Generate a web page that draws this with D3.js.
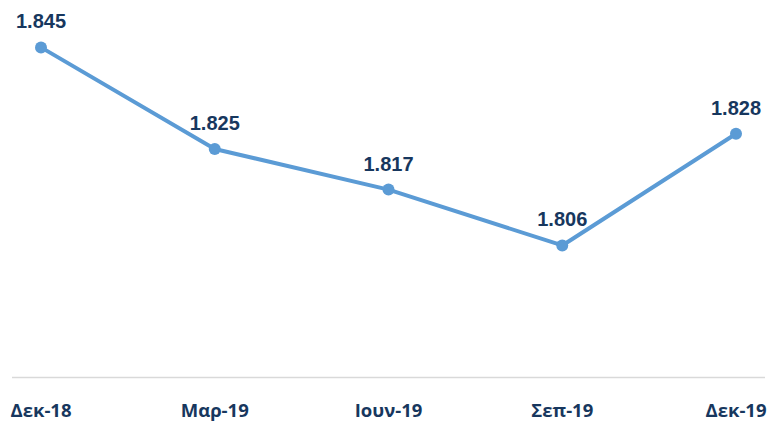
<!DOCTYPE html>
<html>
<head>
<meta charset="utf-8">
<script src="https://cdn.jsdelivr.net/npm/d3@7"></script>
<style>
  body { margin: 0; background: #fff; }
  svg { display: block; }
</style>
</head>
<body>
<div id="chart"></div>
<script>
// quarter labels and values (thousands)
const periods = ["Δεκ-18", "Μαρ-19", "Ιουν-19", "Σεπ-19", "Δεκ-19"];
const values = [1.845, 1.825, 1.817, 1.806, 1.828];
const valueLabels = ["1.845", "1.825", "1.817", "1.806", "1.828"];

const width = 770, height = 423;
const lineColor = "#5b9bd5";
const textColor = "#17375e";

const svg = d3.select("#chart").append("svg")
  .attr("width", width)
  .attr("height", height);

const x = d3.scalePoint()
  .domain(periods)
  .range([41, 736]);

const y = d3.scaleLinear()
  .domain([1.78, 1.85])
  .range([377.5, 22]);

// baseline axis
svg.append("line")
  .attr("x1", 12).attr("x2", 765)
  .attr("y1", y(1.78)).attr("y2", y(1.78))
  .attr("stroke", "#d9d9d9")
  .attr("stroke-width", 1.5);

// category labels
svg.append("g").selectAll("text")
  .data(periods)
  .enter()
  .append("text")
  .attr("x", d => x(d))
  .attr("y", 417)
  .attr("text-anchor", "middle")
  .attr("font-family", "'Open Sans', sans-serif")
  .attr("font-weight", "bold")
  .attr("font-size", "18.5px")
  .attr("fill", textColor)
  .text(d => d);

const line = d3.line()
  .x((d, i) => x(periods[i]))
  .y(d => y(d));

svg.append("path")
  .datum(values)
  .attr("fill", "none")
  .attr("stroke", lineColor)
  .attr("stroke-width", 4)
  .attr("stroke-linejoin", "round")
  .attr("d", line);

svg.append("g").selectAll("circle")
  .data(values)
  .enter()
  .append("circle")
  .attr("cx", (d, i) => x(periods[i]))
  .attr("cy", d => y(d))
  .attr("r", 6)
  .attr("fill", lineColor);

svg.append("g").selectAll("text")
  .data(values)
  .enter()
  .append("text")
  .attr("x", (d, i) => x(periods[i]))
  .attr("y", d => y(d) - 19)
  .attr("text-anchor", "middle")
  .attr("font-family", "Arial, 'Liberation Sans', sans-serif")
  .attr("font-weight", "bold")
  .attr("font-size", "20px")
  .attr("fill", textColor)
  .text((d, i) => valueLabels[i]);
</script>
</body>
</html>
